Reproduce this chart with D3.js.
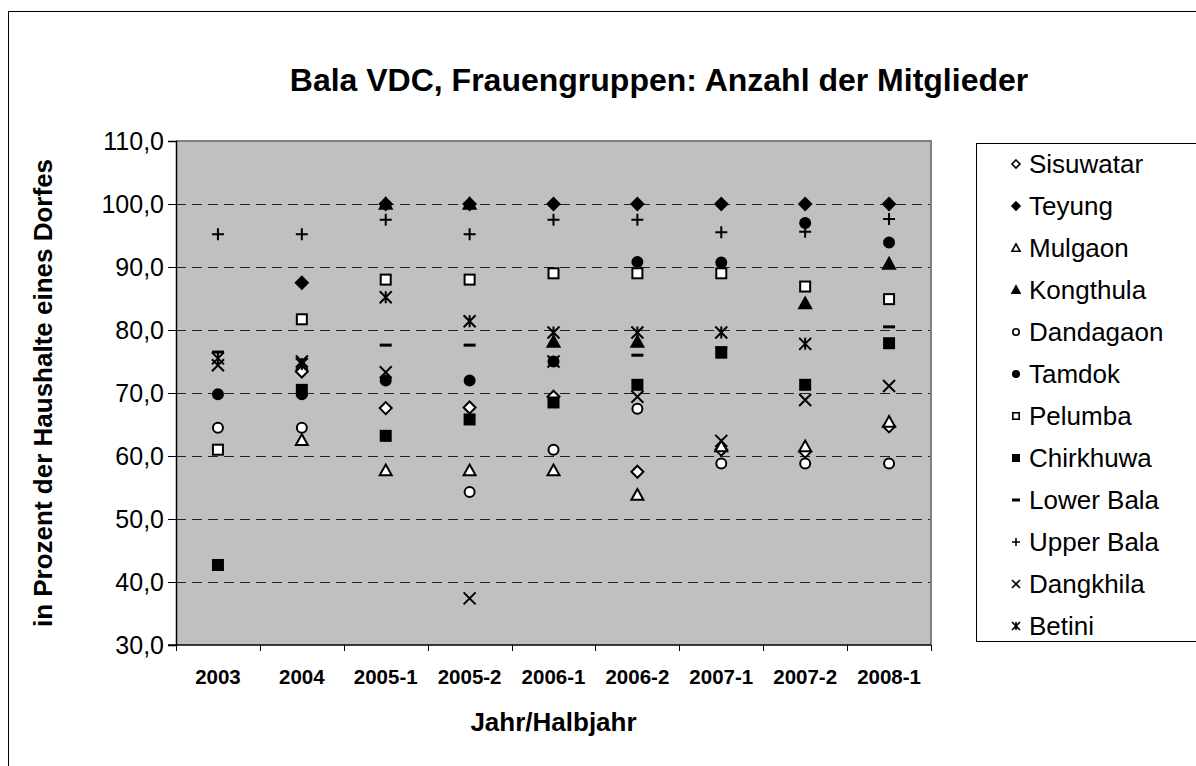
<!DOCTYPE html>
<html>
<head>
<meta charset="utf-8">
<script src="https://cdn.jsdelivr.net/npm/d3@7"></script>
<style>
  body { margin: 0; background: #fff; }
  svg { display: block; font-family: 'Liberation Sans', Arial, sans-serif; }
</style>
</head>
<body>
<svg id="chart" width="1196" height="766"></svg>
<script>
// categories and series (percent of households)
const categories = ['2003', '2004', '2005-1', '2005-2', '2006-1', '2006-2', '2007-1', '2007-2', '2008-1'];
const yTicks = [30, 40, 50, 60, 70, 80, 90, 100, 110];

const sisuwatar = [null, 73.4, 67.6, 67.7, 69.4, 57.5, 61.0, 60.7, 64.7];
const teyung = [null, 87.5, 100, 100, 100, 100, 100, 100, 100];
const mulgaon = [null, 62.5, 57.7, 57.7, 57.7, 53.8, 61.5, 61.5, 65.4];
const kongthula = [null, null, 100, 100, 78.1, 78.1, null, 84.2, 90.5];
const dandagaon = [64.5, 64.5, null, 54.3, 61.0, 67.5, 58.8, 58.8, 58.8];
const tamdok = [69.8, 69.8, 72.0, 72.0, 75.0, 90.8, 90.7, 97.0, 93.9];
const pelumba = [61.0, 81.7, 88.0, 88.0, 89.0, 89.0, 89.0, 86.9, 84.9];
const chirkhuwa = [42.7, 70.5, 63.2, 65.8, 68.5, 71.3, 76.4, 71.3, 77.9];
const lowerBala = [76.5, null, 77.6, 77.6, null, 76.0, 77.2, null, 80.5];
const upperBala = [95.2, 95.2, 97.5, 95.2, 97.5, 97.5, 95.5, 95.6, 97.6];
const dangkhila = [74.4, 75.0, 73.3, 37.4, 75.0, 69.4, 62.4, 68.9, 71.1];
const betini = [75.5, 74.6, 85.2, 81.4, 79.6, 79.6, 79.6, 77.8, null];

const series = [
  { name: 'Sisuwatar', marker: 'diamondOpen', values: sisuwatar },
  { name: 'Teyung', marker: 'diamond', values: teyung },
  { name: 'Mulgaon', marker: 'triangleOpen', values: mulgaon },
  { name: 'Kongthula', marker: 'triangle', values: kongthula },
  { name: 'Dandagaon', marker: 'circleOpen', values: dandagaon },
  { name: 'Tamdok', marker: 'circle', values: tamdok },
  { name: 'Pelumba', marker: 'squareOpen', values: pelumba },
  { name: 'Chirkhuwa', marker: 'square', values: chirkhuwa },
  { name: 'Lower Bala', marker: 'dash', values: lowerBala },
  { name: 'Upper Bala', marker: 'plus', values: upperBala },
  { name: 'Dangkhila', marker: 'x', values: dangkhila },
  { name: 'Betini', marker: 'star', values: betini },
];

const svg = d3.select('#chart');
const margin = { left: 176, top: 141, right: 931, bottom: 645 };

const x = d3.scaleBand().domain(categories).range([margin.left, margin.right]);
const y = d3.scaleLinear().domain([30, 110]).range([margin.bottom, margin.top]);

// outer chart border
svg.append('rect')
  .attr('x', 8.5).attr('y', 11.5)
  .attr('width', 1200).attr('height', 800)
  .attr('fill', '#fff').attr('stroke', '#000').attr('stroke-width', 1);

// title
svg.append('text')
  .attr('x', 659).attr('y', 91)
  .attr('text-anchor', 'middle')
  .attr('font-size', 32).attr('font-weight', 'bold')
  .text('Bala VDC, Frauengruppen: Anzahl der Mitglieder');

// plot background
svg.append('rect')
  .attr('x', margin.left).attr('y', margin.top)
  .attr('width', margin.right - margin.left).attr('height', margin.bottom - margin.top)
  .attr('fill', '#c0c0c0');

// gridlines
svg.append('g')
  .selectAll('line')
  .data(yTicks.filter(d => d > 30 && d < 110))
  .enter()
  .append('line')
  .attr('x1', margin.left).attr('x2', margin.right)
  .attr('y1', d => Math.round(y(d)) + 0.5).attr('y2', d => Math.round(y(d)) + 0.5)
  .attr('stroke', '#222').attr('stroke-width', 1)
  .attr('stroke-dasharray', '10,6');

// plot frame top / right
svg.append('path')
  .attr('d', `M${margin.left},${margin.top}H${margin.right}V${margin.bottom}`)
  .attr('fill', 'none').attr('stroke', '#808080').attr('stroke-width', 2);

// y axis
const fmt = d => d3.format('.1f')(d).replace('.', ',');
const yAxis = svg.append('g')
  .attr('transform', `translate(${margin.left},0)`)
  .call(d3.axisLeft(y).tickValues(yTicks).tickFormat(fmt).tickSize(8).tickPadding(4));
yAxis.select('.domain').attr('stroke', '#000').attr('stroke-width', 1.5);
yAxis.selectAll('.tick line').attr('stroke', '#000');
yAxis.selectAll('text')
  .attr('font-size', 25).attr('font-family', 'Liberation Sans, Arial, sans-serif')
  .attr('fill', '#000');

// x axis: ticks between categories
const xAxisG = svg.append('g');
xAxisG.append('line')
  .attr('x1', margin.left - 8).attr('x2', margin.right)
  .attr('y1', margin.bottom).attr('y2', margin.bottom)
  .attr('stroke', '#000').attr('stroke-width', 1.5);
xAxisG.selectAll('.xt')
  .data(categories.concat(['end']))
  .enter()
  .append('line')
  .attr('x1', (d, i) => Math.round(margin.left + i * x.bandwidth()) + 0.5)
  .attr('x2', (d, i) => Math.round(margin.left + i * x.bandwidth()) + 0.5)
  .attr('y1', margin.bottom).attr('y2', margin.bottom + 6)
  .attr('stroke', '#000');
xAxisG.selectAll('.xl')
  .data(categories)
  .enter()
  .append('text')
  .attr('x', d => x(d) + x.bandwidth() / 2)
  .attr('y', 684)
  .attr('text-anchor', 'middle')
  .attr('font-size', 20.5).attr('font-weight', 'bold')
  .text(d => d);

// axis titles
svg.append('text')
  .attr('x', (margin.left + margin.right) / 2).attr('y', 731)
  .attr('text-anchor', 'middle')
  .attr('font-size', 26).attr('font-weight', 'bold')
  .text('Jahr/Halbjahr');
svg.append('text')
  .attr('transform', `translate(52,${(margin.top + margin.bottom) / 2}) rotate(-90)`)
  .attr('text-anchor', 'middle')
  .attr('font-size', 26).attr('font-weight', 'bold')
  .text('in Prozent der Haushalte eines Dorfes');

// markers
function drawMarker(g, type, s) {
  const h = s / 2;
  const sw = s >= 10 ? 2 : 1.6;
  switch (type) {
    case 'diamondOpen':
    case 'diamond':
      g.append('path')
        .attr('d', `M0,${-h}L${h},0L0,${h}L${-h},0Z`)
        .attr('fill', type === 'diamond' ? '#000' : '#fff')
        .attr('stroke', '#000').attr('stroke-width', sw);
      break;
    case 'triangleOpen':
    case 'triangle':
      g.append('path')
        .attr('d', `M0,${-h}L${h},${h * 0.8}L${-h},${h * 0.8}Z`)
        .attr('fill', type === 'triangle' ? '#000' : '#fff')
        .attr('stroke', '#000').attr('stroke-width', sw).attr('stroke-linejoin', 'miter');
      break;
    case 'circleOpen':
    case 'circle':
      g.append('circle')
        .attr('r', h - sw / 2)
        .attr('fill', type === 'circle' ? '#000' : '#fff')
        .attr('stroke', '#000').attr('stroke-width', sw);
      break;
    case 'squareOpen':
    case 'square':
      g.append('rect')
        .attr('x', -h + sw / 2).attr('y', -h + sw / 2)
        .attr('width', s - sw).attr('height', s - sw)
        .attr('fill', type === 'square' ? '#000' : '#fff')
        .attr('stroke', '#000').attr('stroke-width', sw);
      break;
    case 'dash':
      g.append('rect')
        .attr('x', -h).attr('y', -1.5)
        .attr('width', s).attr('height', 3)
        .attr('fill', '#000');
      break;
    case 'plus':
      g.append('path')
        .attr('d', `M${-h},0H${h}M0,${-h}V${h}`)
        .attr('stroke', '#000').attr('stroke-width', sw);
      break;
    case 'x':
      g.append('path')
        .attr('d', `M${-h},${-h}L${h},${h}M${h},${-h}L${-h},${h}`)
        .attr('stroke', '#000').attr('stroke-width', sw);
      break;
    case 'star':
      g.append('path')
        .attr('d', `M${-h},${-h}L${h},${h}M${h},${-h}L${-h},${h}M0,${-h}V${h}`)
        .attr('stroke', '#000').attr('stroke-width', sw);
      break;
  }
}

const pointsG = svg.append('g');
series.forEach(sr => {
  const pts = sr.values
    .map((v, i) => ({ v, c: categories[i] }))
    .filter(d => d.v !== null);
  pointsG.append('g')
    .selectAll('g')
    .data(pts)
    .enter()
    .append('g')
    .attr('transform', d => `translate(${x(d.c) + x.bandwidth() / 2},${y(d.v)})`)
    .each(function() {
      drawMarker(d3.select(this), sr.marker, 12);
    });
});

// legend
const legend = svg.append('g');
legend.append('rect')
  .attr('x', 976.5).attr('y', 143.5)
  .attr('width', 300).attr('height', 498)
  .attr('fill', '#fff').attr('stroke', '#000').attr('stroke-width', 1);
const item = legend.selectAll('.item')
  .data(series)
  .enter()
  .append('g')
  .attr('transform', (d, i) => `translate(0,${164 + i * 42})`);
item.append('g')
  .attr('transform', 'translate(1016,0)')
  .each(function(d) {
    drawMarker(d3.select(this), d.marker, 8);
  });
item.append('text')
  .attr('x', 1029).attr('y', 0)
  .attr('dy', '0.35em')
  .attr('font-size', 26)
  .text(d => d.name);
</script>
</body>
</html>
